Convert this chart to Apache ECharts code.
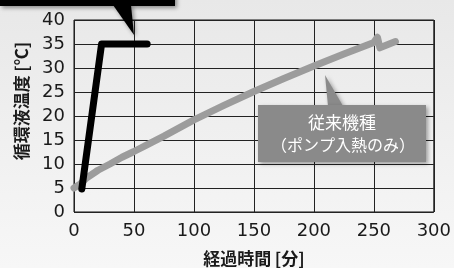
<!DOCTYPE html>
<html>
<head>
<meta charset="utf-8">
<script src="https://cdn.jsdelivr.net/npm/echarts@6/dist/echarts.min.js"></script>
<style>
html,body{margin:0;padding:0;}
#chart{width:454px;height:268px;background:linear-gradient(#e8e8e8,#f7f7f7);}
</style>
</head>
<body>
<div id="chart"></div>
<script>
// data
var xTicks = [0, 50, 100, 150, 200, 250, 300];
var yTicks = [0, 5, 10, 15, 20, 25, 30, 35, 40];
var newX = [6.5, 23, 61];
var newY = [4.8, 35, 35];
var oldX = [0, 5, 10, 20, 30, 40, 50, 60, 75, 100, 125, 150, 175, 200, 225, 250, 253, 255, 268];
var oldY = [5, 5.8, 7.0, 8.7, 10.0, 11.4, 12.6, 13.9, 15.8, 19.2, 22.2, 25.1, 27.8, 30.4, 32.9, 35.3, 36.4, 34.2, 35.5];
var oldLabel = ['従来機種', '（ポンプ入熱のみ）'];

var toPairs = function (xs, ys) {
    var out = [];
    for (var i = 0; i < xs.length; i++) out.push([xs[i], ys[i]]);
    return out;
};

var mychart = echarts.init(document.getElementById('chart'));
var font = '"Noto Sans CJK JP", "Noto Sans", sans-serif';
var numFont = '"DejaVu Sans ExtraLight", "DejaVu Sans", sans-serif';

option = {
    animation: false,
    grid: { left: 74, right: 20, top: 20, bottom: 56, show: true, borderColor: '#111', borderWidth: 1 },
    xAxis: {
        type: 'value', min: 0, max: 300, interval: 50,
        axisLine: { show: false }, axisTick: { show: false },
        axisLabel: { fontFamily: numFont, fontSize: 18, color: '#1a1a1a', margin: 10 },
        splitLine: { lineStyle: { color: '#222', width: 1 } }
    },
    yAxis: {
        type: 'value', min: 0, max: 40, interval: 5,
        axisLine: { show: false }, axisTick: { show: false },
        axisLabel: { fontFamily: numFont, fontSize: 18, color: '#1a1a1a', margin: 9 },
        splitLine: { lineStyle: { color: '#222', width: 1 } }
    },
    series: [
        {
            type: 'line', data: toPairs(oldX, oldY), showSymbol: false, z: 3,
            lineStyle: { color: '#9c9c9c', width: 7, cap: 'round', join: 'round' }
        },
        {
            type: 'line', data: toPairs(newX, newY), showSymbol: false, z: 4,
            lineStyle: { color: '#000', width: 7, cap: 'round', join: 'round' }
        }
    ],
    graphic: [
        // axis titles
        { type: 'text', x: 254, y: 259, z: 5,
          style: { text: '経過時間\u2009[分]', fill: '#1a1a1a', fontFamily: font, fontSize: 17, fontWeight: 'bold', align: 'center', verticalAlign: 'middle' } },
        { type: 'text', x: 22, y: 101, rotation: Math.PI / 2, z: 5,
          style: { text: '循環液温度\u2009[℃]', fill: '#1a1a1a', fontFamily: font, fontSize: 17, fontWeight: 'bold', align: 'center', verticalAlign: 'middle' } },
        // black callout cut off at the top
        { type: 'rect', shape: { x: 0, y: -10, width: 175, height: 16 }, z: 10,
          style: { fill: '#000', shadowBlur: 4, shadowColor: 'rgba(0,0,0,0.4)', shadowOffsetX: 2, shadowOffsetY: 2 } },
        { type: 'polygon', shape: { points: [[113, 5], [131, 5], [134, 35]] }, z: 10,
          style: { fill: '#000', shadowBlur: 4, shadowColor: 'rgba(0,0,0,0.4)', shadowOffsetX: 2, shadowOffsetY: 2 } },
        // gray callout
        { type: 'polygon', shape: { points: [[328, 106], [343, 106], [325, 75]] }, z: 10,
          style: { fill: '#8a8a8a', shadowBlur: 4, shadowColor: 'rgba(0,0,0,0.35)', shadowOffsetX: 2, shadowOffsetY: 2 } },
        { type: 'rect', shape: { x: 258, y: 105, width: 168, height: 57 }, z: 10,
          style: { fill: '#8a8a8a', shadowBlur: 4, shadowColor: 'rgba(0,0,0,0.35)', shadowOffsetX: 2, shadowOffsetY: 2 } },
        { type: 'text', x: 342, y: 123, z: 11,
          style: { text: oldLabel[0], fill: '#fff', fontFamily: font, fontSize: 17, align: 'center', verticalAlign: 'middle' } },
        { type: 'text', x: 343, y: 145, z: 11,
          style: { text: oldLabel[1], fill: '#fff', fontFamily: font, fontSize: 16, align: 'center', verticalAlign: 'middle' } }
    ]
};
mychart.setOption(option);
</script>
</body>
</html>
